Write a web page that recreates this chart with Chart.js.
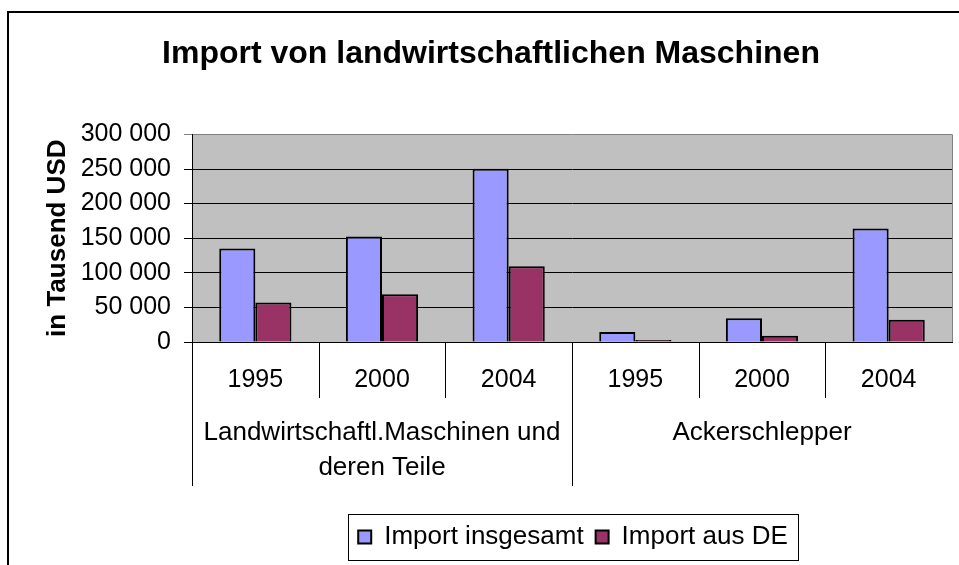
<!DOCTYPE html>
<html>
<head>
<meta charset="utf-8">
<script src="https://cdn.jsdelivr.net/npm/chart.js@4.4.0/dist/chart.umd.min.js"></script>
<style>
  html, body { margin: 0; padding: 0; background: #fff; overflow: hidden; }
  #wrap { position: relative; width: 959px; height: 565px; }
  #frame { position: absolute; left: 7px; top: 11px; width: 1000px; height: 1000px; border: 2px solid #000; }
  #chart { position: absolute; left: 0; top: 0; }
</style>
</head>
<body>
<div id="wrap">
  <div id="frame"></div>
  <canvas id="chart" width="959" height="565"></canvas>
</div>
<script>
// Data (thousand USD)
const years = ['1995', '2000', '2004', '1995', '2000', '2004'];
const groupNames = [['Landwirtschaftl.Maschinen und', 'deren Teile'], ['Ackerschlepper']];
const groupSizes = [3, 3];
const importTotal = [135000, 152500, 250500, 14500, 34500, 164000];
const importDE = [57000, 69000, 109500, 3000, 9000, 32000];
const yMax = 300000;
const yStep = 50000;

const FONT = "'Liberation Sans', Arial, sans-serif";

// thousands with a space, like "250 000"
function formatTick(v) {
  return String(v).replace(/\B(?=(\d{3})+(?!\d))/g, ' ');
}

// Excel-like look: grey plot area, two level category axis, framed legend
const excelLook = {
  id: 'excelLook',
  afterLayout(chart) {
    // legend sits under the right part of the chart in the original
    const lg = chart.legend;
    const pad = lg.options.labels.padding;
    const w = lg.right - lg.left;
    const h = lg.bottom - lg.top;
    const cx = 573;
    const top = 537 - pad - 13;
    lg.left = cx - w / 2;
    lg.right = cx + w / 2;
    lg.top = top;
    lg.bottom = top + h;
    // title is a bit right of center
    const t = chart.titleBlock;
    t.left += 11;
    t.right += 11;
  },
  beforeDraw(chart) {
    const { ctx, chartArea: a } = chart;
    ctx.save();
    ctx.fillStyle = '#C0C0C0';
    ctx.fillRect(a.left, a.top, a.right - a.left, a.bottom - a.top);
    ctx.restore();
  },
  afterDraw(chart) {
    const { ctx, chartArea: a } = chart;
    const xs = chart.scales.x;
    ctx.save();

    // right border of plot area
    ctx.strokeStyle = '#808080';
    ctx.lineWidth = 1;
    ctx.beginPath();
    ctx.moveTo(Math.round(a.right) + 0.5, a.top);
    ctx.lineTo(Math.round(a.right) + 0.5, a.bottom);
    ctx.stroke();

    // category axis: years, separators, group names
    const step = xs.getPixelForTick(1) - xs.getPixelForTick(0);
    const top = Math.round(xs.top);
    ctx.strokeStyle = '#000';
    ctx.fillStyle = '#000';
    ctx.textAlign = 'center';
    ctx.textBaseline = 'middle';
    ctx.font = '25px ' + FONT;
    years.forEach((y, i) => {
      ctx.fillText(y, xs.getPixelForTick(i), top + 38);
    });

    let idx = 0;
    groupSizes.forEach((size, g) => {
      for (let k = 0; k < size; k++) {
        const x = Math.round(xs.getPixelForTick(idx + k) - step / 2) + 0.5;
        const len = k === 0 ? 144 : 56;
        ctx.beginPath();
        ctx.moveTo(x, top);
        ctx.lineTo(x, top + len);
        ctx.stroke();
      }
      const cx = (xs.getPixelForTick(idx) + xs.getPixelForTick(idx + size - 1)) / 2;
      ctx.font = '26px ' + FONT;
      groupNames[g].forEach((line, j) => {
        ctx.fillText(line, cx, top + 91 + j * 35);
      });
      idx += size;
    });

    // frame round the legend
    const hb = chart.legend.legendHitBoxes;
    if (hb && hb.length) {
      const first = hb[0];
      const last = hb[hb.length - 1];
      const l = Math.round(first.left - 10) + 0.5;
      const r = Math.round(last.left + last.width + 10) + 0.5;
      const t = Math.round(first.top - 10) + 0.5;
      const b = Math.round(first.top + first.height + 10) + 0.5;
      ctx.strokeStyle = '#000';
      ctx.lineWidth = 1;
      ctx.strokeRect(l, t, r - l, b - t);
    }
    ctx.restore();
  }
};

new Chart(document.getElementById('chart'), {
  type: 'bar',
  data: {
    labels: years,
    datasets: [
      {
        label: 'Import insgesamt',
        data: importTotal,
        backgroundColor: '#9999FF',
        borderColor: '#000',
        borderWidth: 2,
        categoryPercentage: 0.57,
        barPercentage: 1.0
      },
      {
        label: 'Import aus DE',
        data: importDE,
        backgroundColor: '#993366',
        borderColor: '#000',
        borderWidth: 2,
        categoryPercentage: 0.57,
        barPercentage: 1.0
      }
    ]
  },
  options: {
    responsive: false,
    devicePixelRatio: 1,
    animation: false,
    layout: {
      padding: { top: 12, left: 8, right: 7, bottom: 25 }
    },
    plugins: {
      title: {
        display: true,
        text: 'Import von landwirtschaftlichen Maschinen',
        color: '#000',
        font: { family: FONT, size: 32, weight: 'bold' },
        padding: { top: 23, bottom: 61 }
      },
      legend: {
        display: true,
        position: 'bottom',
        labels: {
          color: '#000',
          font: { family: FONT, size: 26 },
          boxWidth: 13,
          boxHeight: 13,
          padding: 12
        }
      },
      tooltip: { enabled: false }
    },
    scales: {
      x: {
        ticks: { display: false },
        grid: { display: false },
        border: { color: '#000', width: 1 },
        afterFit(scale) { scale.height = 150; }
      },
      y: {
        min: 0,
        max: yMax,
        ticks: {
          stepSize: yStep,
          color: '#000',
          font: { family: FONT, size: 25 },
          padding: 13,
          callback: (v) => formatTick(v)
        },
        grid: {
          color: (c) => (c.tick && c.tick.value === yMax ? '#808080' : '#000'),
          lineWidth: 1,
          tickLength: 8
        },
        border: { color: '#000', width: 1 },
        title: {
          display: true,
          text: 'in Tausend USD',
          color: '#000',
          font: { family: FONT, size: 26, weight: 'bold' },
          padding: { top: 34, bottom: 0 }
        },
        afterFit(scale) { scale.width = 184; }
      }
    }
  },
  plugins: [excelLook]
});
</script>
</body>
</html>
